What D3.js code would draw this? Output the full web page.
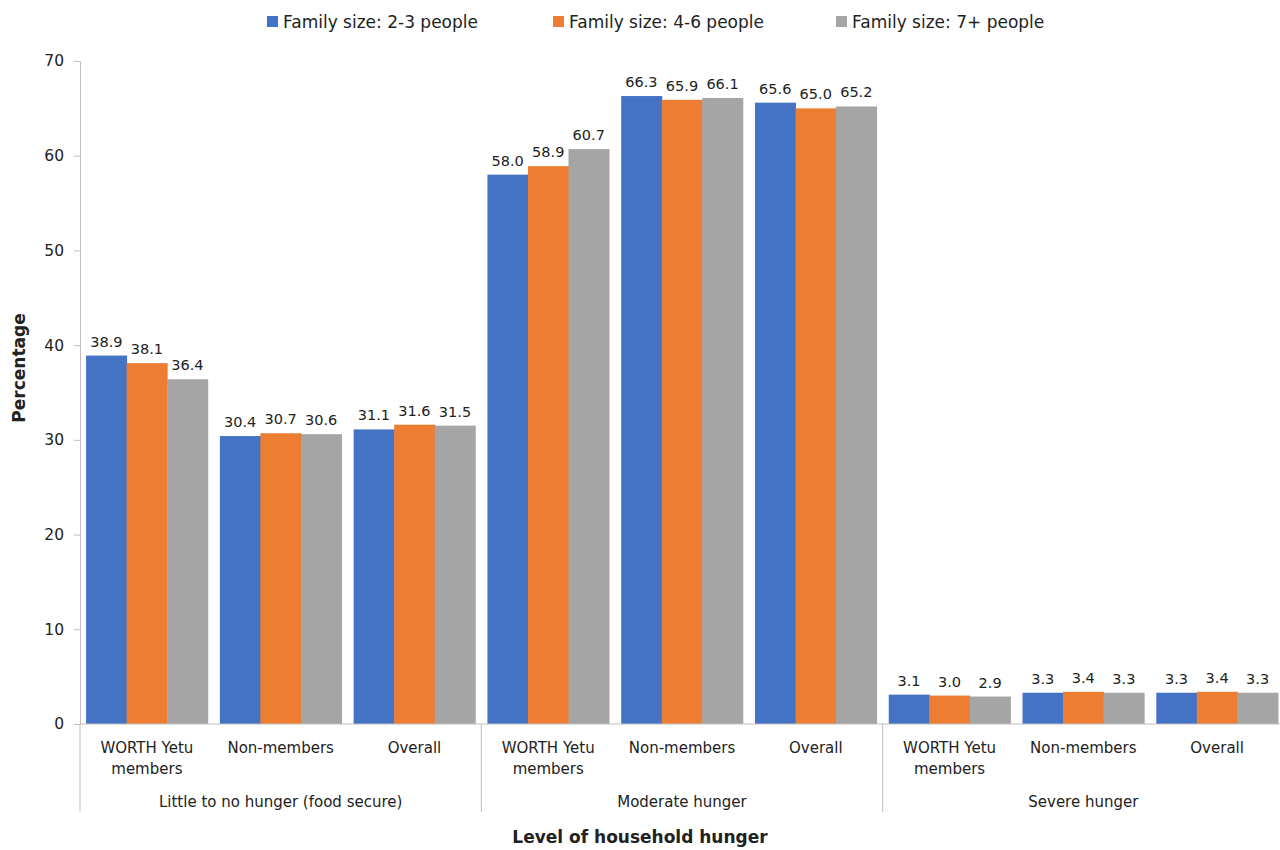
<!DOCTYPE html>
<html>
<head>
<meta charset="utf-8">
<script src="https://cdn.jsdelivr.net/npm/d3@7"></script>
<style>
  body { margin: 0; background: #fff; }
  svg text { font-family: "DejaVu Sans", Verdana, sans-serif; fill: #222; }
</style>
</head>
<body>
<svg id="chart" width="1280" height="850" viewBox="0 0 1280 850"></svg>
<script>
// Data
const groups = ["Little to no hunger (food secure)", "Moderate hunger", "Severe hunger"];
const subgroups = ["WORTH Yetu members", "Non-members", "Overall"];
const seriesNames = ["Family size: 2-3 people", "Family size: 4-6 people", "Family size: 7+ people"];
const colors = ["#4472C4", "#ED7D31", "#A5A5A5"];
const size23 = [38.9, 30.4, 31.1, 58.0, 66.3, 65.6, 3.1, 3.3, 3.3];
const size46 = [38.1, 30.7, 31.6, 58.9, 65.9, 65.0, 3.0, 3.4, 3.4];
const size7p = [36.4, 30.6, 31.5, 60.7, 66.1, 65.2, 2.9, 3.3, 3.3];
const yTicks = [0, 10, 20, 30, 40, 50, 60, 70];

const series = [size23, size46, size7p];
const margin = {top: 61, left: 80};
const innerWidth = 1204, innerHeight = 663;

const svg = d3.select('#chart');
const g = svg.append('g').attr('transform', `translate(${margin.left},${margin.top})`);

// One slot per (group, subgroup) pair
const slots = [];
groups.forEach((gr, gi) => subgroups.forEach((sg, si) => slots.push({gi, si, key: gi + '|' + si, label: sg})));

const x0 = d3.scaleBand().domain(slots.map(d => d.key)).range([0, innerWidth]);
const x1 = d3.scaleBand().domain(d3.range(series.length)).range([0, x0.bandwidth()]).paddingOuter(0.15);
const y = d3.scaleLinear().domain([0, 70]).range([innerHeight, 0]);
const gx = d3.scaleBand().domain(groups).range([0, innerWidth]);

// y axis
const yAxis = d3.axisLeft(y).tickValues(yTicks).tickSize(6).tickPadding(10);
const ya = g.append('g').attr('class', 'y axis').call(yAxis);
ya.selectAll('.domain').attr('stroke', '#bfbfbf');
ya.selectAll('.tick line').attr('stroke', '#bfbfbf');
ya.selectAll('.tick text').attr('font-size', 15.5).attr('fill', '#222');

// bars
slots.forEach((s, idx) => {
  const cell = g.append('g').attr('transform', `translate(${x0(s.key)},0)`);
  series.forEach((vals, k) => {
    const v = vals[idx];
    cell.append('rect')
      .attr('x', x1(k))
      .attr('y', y(v))
      .attr('width', x1.bandwidth() + 0.5)
      .attr('height', innerHeight - y(v))
      .attr('fill', colors[k]);
    cell.append('text')
      .attr('x', x1(k) + x1.bandwidth() / 2)
      .attr('y', y(v) - 9)
      .attr('text-anchor', 'middle')
      .attr('font-size', 14.5)
      .text(v.toFixed(1));
  });
});

// x axis baseline
g.append('line')
  .attr('x1', 0).attr('x2', innerWidth)
  .attr('y1', innerHeight).attr('y2', innerHeight)
  .attr('stroke', '#bfbfbf');

// group separators
groups.forEach(gr => {
  g.append('line')
    .attr('x1', gx(gr)).attr('x2', gx(gr))
    .attr('y1', innerHeight).attr('y2', innerHeight + 88)
    .attr('stroke', '#bfbfbf');
});

// subgroup labels
slots.forEach(s => {
  const cx = x0(s.key) + x0.bandwidth() / 2;
  const words = s.label === "WORTH Yetu members" ? ["WORTH Yetu", "members"] : [s.label];
  words.forEach((w, i) => {
    g.append('text')
      .attr('x', cx)
      .attr('y', innerHeight + 29 + i * 21)
      .attr('text-anchor', 'middle')
      .attr('font-size', 15)
      .text(w);
  });
});

// group labels
groups.forEach(gr => {
  g.append('text')
    .attr('x', gx(gr) + gx.bandwidth() / 2)
    .attr('y', innerHeight + 83)
    .attr('text-anchor', 'middle')
    .attr('font-size', 15)
    .text(gr);
});

// axis titles
svg.append('text')
  .attr('x', 640).attr('y', 843)
  .attr('text-anchor', 'middle')
  .attr('font-size', 17).attr('font-weight', 'bold')
  .text('Level of household hunger');

svg.append('text')
  .attr('transform', 'translate(25,368) rotate(-90)')
  .attr('text-anchor', 'middle')
  .attr('font-size', 17).attr('font-weight', 'bold')
  .text('Percentage');

// legend
const legendX = [267, 553, 836];
seriesNames.forEach((name, k) => {
  const lg = svg.append('g').attr('transform', `translate(${legendX[k]},16)`);
  lg.append('rect').attr('width', 11).attr('height', 11).attr('fill', colors[k]);
  lg.append('text').attr('x', 16).attr('y', 12).attr('font-size', 17).text(name);
});
</script>
</body>
</html>
